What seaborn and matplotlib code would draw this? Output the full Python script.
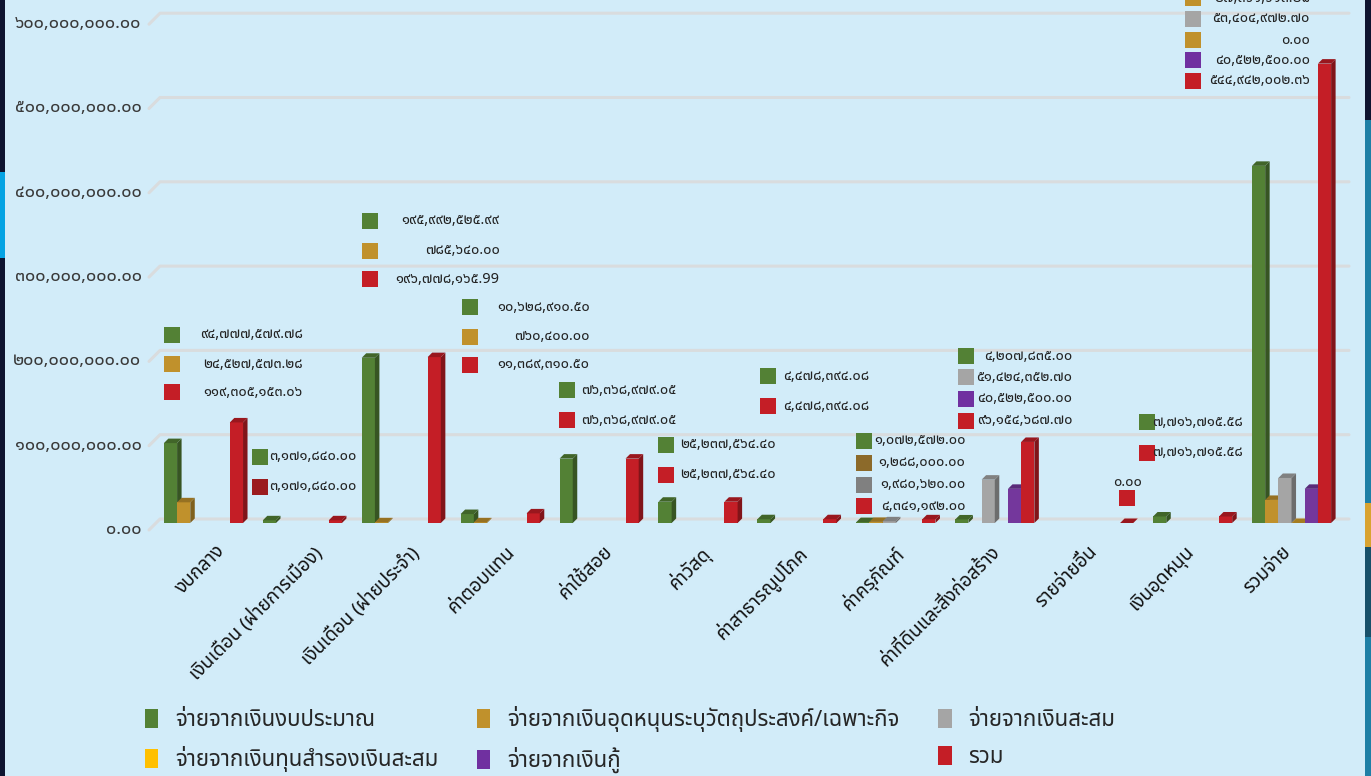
import numpy as np
import pandas as pd
import matplotlib
matplotlib.use("Agg")
import matplotlib.pyplot as plt
import seaborn as sns
from matplotlib import font_manager, ft2font
from matplotlib.patches import Rectangle, Polygon, Patch
from matplotlib.lines import Line2D
from matplotlib.transforms import ScaledTranslation
import matplotlib.colors as mcolors

nan = np.nan
categories = ["งบกลาง", "เงินเดือน (ฝ่ายการเมือง)", "เงินเดือน (ฝ่ายประจำ)", "ค่าตอบแทน",
              "ค่าใช้สอย", "ค่าวัสดุ", "ค่าสาธารณูปโภค", "ค่าครุภัณฑ์",
              "ค่าที่ดินและสิ่งก่อสร้าง", "รายจ่ายอื่น", "เงินอุดหนุน", "รวมจ่าย"]
series_names = ["จ่ายจากเงินงบประมาณ", "จ่ายจากเงินอุดหนุนระบุวัตถุประสงค์/เฉพาะกิจ",
                "จ่ายจากเงินสะสม", "จ่ายจากเงินทุนสำรองเงินสะสม", "จ่ายจากเงินกู้", "รวม"]
budget = [94777579.78, 3171840.00, 195992525.99, 10628910.50, 76368979.05, 25237564.40,
          4478394.08, 1072572.00, 4207835.00, nan, 7716715.58, 423652916.38]
subsidy = [24527573.28, nan, 785640.00, 760400.00, nan, nan,
           nan, 1288000.00, nan, nan, nan, 27361613.28]
accumulated = [nan, nan, nan, nan, nan, nan,
               nan, 1980620.00, 51424352.70, nan, nan, 53404972.70]
reserve = [nan, nan, nan, nan, nan, nan, nan, nan, nan, nan, nan, 0.00]
loan = [nan, nan, nan, nan, nan, nan, nan, nan, 40522500.00, nan, nan, 40522500.00]
total = [119305153.06, 3171840.00, 196778165.99, 11389310.50, 76368979.05, 25237564.40,
         4478394.08, 4341192.00, 96154687.70, 0.00, 7716715.58, 544942002.36]
y_ticks = [0, 100e6, 200e6, 300e6, 400e6, 500e6, 600e6]

series_values = [budget, subsidy, accumulated, reserve, loan, total]
legend_colors = ["#538135", "#C0912C", "#A5A5A5", "#FFC000", "#7030A0", "#C41E26"]
bar_colors = ["#538135", "#C0912C", "#A5A5A5", "#D4A02A", "#74379C", "#C41E26"]

# ---------- font detection ----------
thai_fonts = []
seen = set()
for f in font_manager.fontManager.ttflist:
    if f.name in seen:
        continue
    try:
        cm = ft2font.FT2Font(f.fname).get_charmap()
        if 0x0E01 in cm and 0x0E51 in cm:
            thai_fonts.append(f.name)
            seen.add(f.name)
    except Exception:
        pass
pref = ["Noto Sans Thai", "Noto Sans Thai UI", "Noto Sans Thai Looped", "Sarabun", "Kanit", "Prompt"]
thai_fonts_sorted = sorted(thai_fonts, key=lambda n: pref.index(n) if n in pref else 99)
main_font = thai_fonts_sorted[0] if thai_fonts_sorted else "DejaVu Sans"

sns.set_theme(style="white")
plt.rcParams["font.family"] = [main_font, "DejaVu Sans"]

TH = str.maketrans("0123456789", "๐๑๒๓๔๕๖๗๘๙")
def thai_num(v):
    return f"{v:,.2f}".translate(TH)

rows = []
for s, vals in zip(series_names, series_values):
    for c, v in zip(categories, vals):
        if not np.isnan(v):
            rows.append({"category": c, "series": s, "value": v})
df = pd.DataFrame(rows)

W, H = 1371, 776
BG = "#D2ECF9"
fig = plt.figure(figsize=(W / 100, H / 100), dpi=100, facecolor=BG)
ax = fig.add_axes([154 / W, (H - 523) / H, 1187 / W, 523 / H])
ax.set_facecolor(BG)

sns.barplot(data=df, x="category", y="value", hue="series", order=categories,
            hue_order=series_names, palette=bar_colors, width=0.8, errorbar=None,
            saturation=1, legend=False, ax=ax, zorder=3)
ax.set_xlim(-0.5, len(categories) - 0.5)
ax.set_ylim(0, 620.4e6)
for sp in ax.spines.values():
    sp.set_visible(False)
ax.set_xlabel("")
ax.set_ylabel("")

ax.set_yticks(y_ticks)
ax.set_yticklabels([thai_num(t) for t in y_ticks])
ax.tick_params(axis="y", length=0, pad=9, labelsize=13, labelcolor="#3a3a3a")
lab_off = ScaledTranslation(0, -4 / 100, fig.dpi_scale_trans)
for lb in ax.get_yticklabels():
    lb.set_transform(lb.get_transform() + lab_off)

ax.tick_params(axis="x", length=0, pad=14, labelsize=13.5, labelcolor="#111111")
for i, lb in enumerate(ax.get_xticklabels()):
    lb.set_rotation(45)
    lb.set_ha("right")
    lb.set_va("top")
    lb.set_rotation_mode("anchor")
    xoff = ScaledTranslation((12 - 2 * i) / 100, 0, fig.dpi_scale_trans)
    lb.set_transform(lb.get_transform() + xoff)

fig.canvas.draw()
inv = ax.transData.inverted()

# gridlines drawn on a back plane with a slanted left edge (pseudo 3D)
GRID = "#D9DCDE"
XL = ax.transData.transform((-0.5, 0))[0]
XR = ax.transData.transform((len(categories) - 0.5, 0))[0]
for t in y_ticks:
    Y = ax.transData.transform((0, t))[1]
    pts = inv.transform([(XL - 5, Y - 7), (XL + 6, Y + 4), (XR + 8, Y + 4)])
    ax.add_line(Line2D(pts[:, 0], pts[:, 1], color=GRID, lw=2.2, zorder=1, clip_on=False))

# ---------- pseudo 3D faces ----------
def shade(c, f):
    r, g, b = mcolors.to_rgb(c)
    return (r * f, g * f, b * f)

bars = [p for p in ax.patches if isinstance(p, Rectangle)]
bars.sort(key=lambda p: p.get_x())
d = 4.5
for i, p in enumerate(bars):
    z = 3 + i * 0.01
    p.set_zorder(z)
    p.set_linewidth(0)
    x0, y0 = p.get_x(), p.get_y()
    x1, y1 = x0 + p.get_width(), y0 + p.get_height()
    (X0, Y0), (X1, Y1) = ax.transData.transform([(x0, y0), (x1, y1)])
    col = p.get_facecolor()
    side = [(X1, Y0), (X1 + d, Y0 + d), (X1 + d, Y1 + d), (X1, Y1)]
    top = [(X0, Y1), (X0 + d, Y1 + d), (X1 + d, Y1 + d), (X1, Y1)]
    ax.add_patch(Polygon(inv.transform(side), closed=True, facecolor=shade(col, 0.66),
                         lw=0, zorder=z + 0.005, clip_on=False))
    ax.add_patch(Polygon(inv.transform(top), closed=True, facecolor=shade(col, 0.78),
                         lw=0, zorder=z + 0.006, clip_on=False))

# ---------- value label blocks ----------
# per category: swatch offset from group left (px), text right offset from swatch (px), row y (px from top)
layout = {
    0: (0, 139, [335, 364, 392]),
    1: (-11, 105, [457, 487]),
    2: (0, 138, [221, 251, 279]),
    3: (1, 128, [307, 337, 365]),
    4: (-1, 118, [390, 420]),
    5: (0, 117, [445, 475]),
    6: (3, 109, [376, 406]),
    7: (0, 109, [441, 463, 485, 506]),
    8: (3, 114, [356, 377, 399, 421]),
    10: (-14, 104, [422, 453]),
    11: (-67, 125, [-23, -2, 19, 40, 60, 81]),
}
swatch_override = {(1, 5): "#9B1B1E", (7, 1): "#8C6A2A", (7, 2): "#808080", (11, 3): "#C0912C"}
text_override = {(2, 5): "๑๙๖,๗๗๘,๑๖๕.99"}
SW = 16
LBL = dict(fontsize=10.5, color="#222222")
for ci, (sdx, trx, ys) in layout.items():
    gx = ax.transData.transform((ci - 0.4, 0))[0]
    present = [k for k in range(len(series_values)) if not np.isnan(series_values[k][ci])]
    for k, yy in zip(present, ys):
        sx = gx + sdx
        colr = swatch_override.get((ci, k), legend_colors[k] if k != 3 else bar_colors[k])
        fig.patches.append(Rectangle((sx / W, (H - yy - SW / 2) / H), SW / W, SW / H,
                                     transform=fig.transFigure, facecolor=colr, lw=0))
        txt = text_override.get((ci, k), thai_num(series_values[k][ci]))
        fig.text((sx + trx) / W, (H - yy) / H, txt, ha="right", va="center", **LBL)

# category with only a zero total: text above swatch
ci = 9
gx = ax.transData.transform((ci - 0.4, 0))[0] + 65
fig.patches.append(Rectangle((gx / W, (H - 498 - SW / 2) / H), SW / W, SW / H,
                             transform=fig.transFigure, facecolor=legend_colors[5], lw=0))
fig.text((gx + 8) / W, (H - 483) / H, thai_num(total[ci]), ha="center", va="center", **LBL)

# ---------- legend ----------
order = [0, 3, 1, 4, 2, 5]
handles = [Patch(facecolor=legend_colors[k], edgecolor="none") for k in order]
labels = [series_names[k] for k in order]
fig.legend(handles, labels, ncol=3, loc="upper left", bbox_to_anchor=(145 / W, 1 - 706 / H),
           frameon=False, fontsize=16, handlelength=0.6, handleheight=0.95, handletextpad=0.75,
           columnspacing=1.75, labelspacing=0.68, borderpad=0, borderaxespad=0)

# ---------- page edges ----------
def frect(x, y, w, h, c):
    fig.patches.append(Rectangle((x / W, (H - y - h) / H), w / W, h / H,
                                 transform=fig.transFigure, facecolor=c, lw=0, zorder=10))
frect(0, 0, 5, H, "#0E1430")
frect(0, 172, 5, 86, "#05A3E3")
frect(1365, 0, 6, H, "#1E7FA6")
frect(1365, 0, 6, 120, "#0E1430")
frect(1365, 503, 6, 44, "#D9A330")
frect(1365, 547, 6, 90, "#17506A")

fig.savefig("out.png", dpi=100, facecolor=BG)
